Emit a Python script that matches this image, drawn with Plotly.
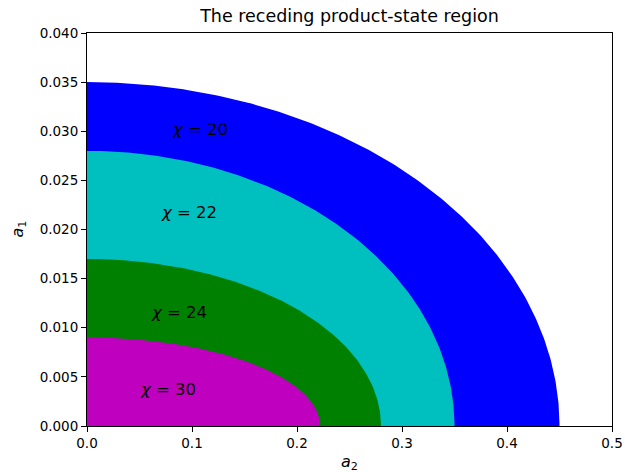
import numpy as np
import plotly.graph_objects as go

# Data: semi-axes of the quarter-elliptic regions for each chi
chi_values = [20, 22, 24, 30]
a2_extent = [0.45, 0.35, 0.28, 0.222]
a1_extent = [0.035, 0.028, 0.017, 0.009]
colors = ["#0000ff", "#00bfbf", "#008000", "#bf00bf"]
label_x = [0.079, 0.069, 0.059, 0.049]
label_y = [0.0302, 0.0217, 0.0116, 0.0037]

x_ticks = [0.0, 0.1, 0.2, 0.3, 0.4, 0.5]
y_ticks = [0.000, 0.005, 0.010, 0.015, 0.020, 0.025, 0.030, 0.035, 0.040]

FONT = "DejaVu Sans"
fig = go.Figure()

theta = np.linspace(0, np.pi / 2, 200)
for chi, ax2, ax1, col in zip(chi_values, a2_extent, a1_extent, colors):
    xs = np.concatenate([[0.0], ax2 * np.cos(theta), [0.0]])
    ys = np.concatenate([[0.0], ax1 * np.sin(theta), [0.0]])
    fig.add_trace(go.Scatter(
        x=xs, y=ys, mode="lines", fill="toself", fillcolor=col,
        line=dict(color=col, width=0), name=f"chi={chi}", hoverinfo="skip",
        showlegend=False))

for chi, lx, ly in zip(chi_values, label_x, label_y):
    fig.add_annotation(x=lx, y=ly, xref="x", yref="y", text=f"<i>χ</i> = {chi}",
                       showarrow=False, xanchor="left", yanchor="middle",
                       font=dict(family=FONT, size=16.5, color="black"))

# axis titles
fig.add_annotation(x=0.5, y=-36 / 393, xref="paper", yref="paper",
                   text="<i>a</i><sub>2</sub>", showarrow=False,
                   xanchor="center", yanchor="middle",
                   font=dict(family=FONT, size=16, color="black"))
fig.add_annotation(x=-69 / 525, y=0.5, xref="paper", yref="paper",
                   text="<i>a</i><sub>1</sub>", showarrow=False, textangle=-90,
                   xanchor="center", yanchor="middle",
                   font=dict(family=FONT, size=16, color="black"))

axis_common = dict(showgrid=False, zeroline=False, showline=True, linecolor="black",
                   linewidth=1, mirror=True, ticks="outside", ticklen=5,
                   tickcolor="black", tickwidth=1, automargin=False,
                   tickfont=dict(family=FONT, size=13.5, color="black"))

fig.update_layout(
    width=625, height=472,
    margin=dict(l=87, r=13, t=33, b=46, autoexpand=False),
    paper_bgcolor="white", plot_bgcolor="white",
    title=dict(text="The receding product-state region", x=0.5, xref="paper",
               y=1 - 16 / 472, yanchor="middle", automargin=False,
               font=dict(family=FONT, size=17.5, color="black")),
    xaxis=dict(range=[0, 0.5], tickvals=x_ticks,
               ticktext=[f"{v:.1f}" for v in x_ticks], **axis_common),
    yaxis=dict(range=[0, 0.04], tickvals=y_ticks,
               ticktext=[f"{v:.3f}" for v in y_ticks], **axis_common),
)

fig.write_html(
    "out.html",
    config={"displayModeBar": False},
    post_script="document.body.style.margin='0';document.body.style.overflow='hidden';",
)
